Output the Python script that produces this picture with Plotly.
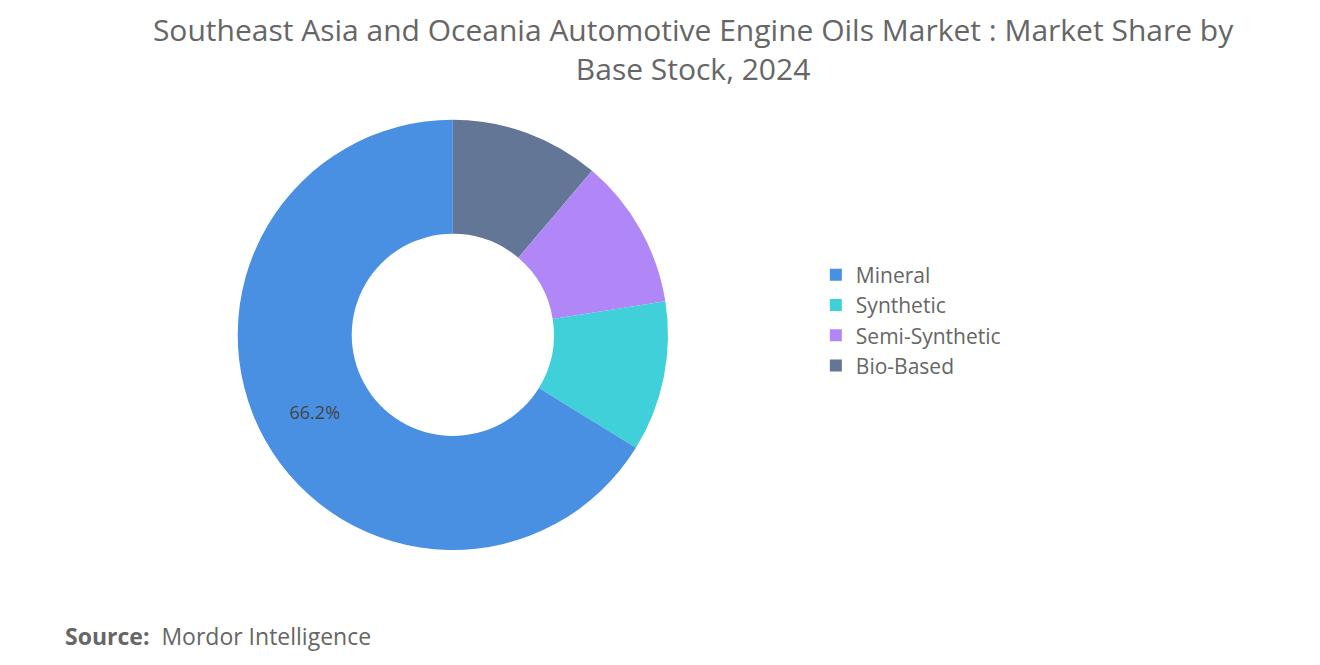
import plotly.graph_objects as go

# listed in clockwise order from 12 o'clock; legend is reversed to show Mineral first
labels = ["Bio-Based", "Semi-Synthetic", "Synthetic", "Mineral"]
values = [11.2, 11.3, 11.3, 66.2]
colors = ["#637696", "#b187f7", "#3fd0d9", "#4a90e2"]
shown = ["", "", "", "66.2%"]

fig = go.Figure(go.Pie(
    labels=labels, values=values, sort=False, direction="clockwise",
    rotation=0, hole=0.47, marker=dict(colors=colors),
    text=shown, texttemplate="%{text}", textinfo="text",
    textposition="inside", insidetextorientation="horizontal",
    textfont=dict(size=18, color="#444"),
    domain=dict(x=[0.174, 0.5], y=[0.185, 0.832]),
    hoverinfo="label+percent",
))

fig.update_layout(
    width=1320, height=665,
    margin=dict(l=0, r=0, t=0, b=0),
    paper_bgcolor="white",
    font=dict(family="Open Sans", color="#666"),
    title=dict(
        text="Southeast Asia and Oceania Automotive Engine Oils Market : Market Share by<br>Base Stock, 2024",
        x=0.519, xanchor="center", y=0.95, yanchor="top",
        font=dict(size=30, color="#666"),
    ),
    legend=dict(x=0.612, y=0.53, yanchor="middle", font=dict(size=21, color="#666"),
                itemwidth=30, traceorder="reversed", tracegroupgap=0),
    annotations=[dict(
        text="<b>Source:</b>  Mordor Intelligence", x=0.042, y=0.055,
        xref="paper", yref="paper", xanchor="left", yanchor="middle",
        showarrow=False, font=dict(size=23, color="#666"),
    )],
)

fig.write_html("out.html")
